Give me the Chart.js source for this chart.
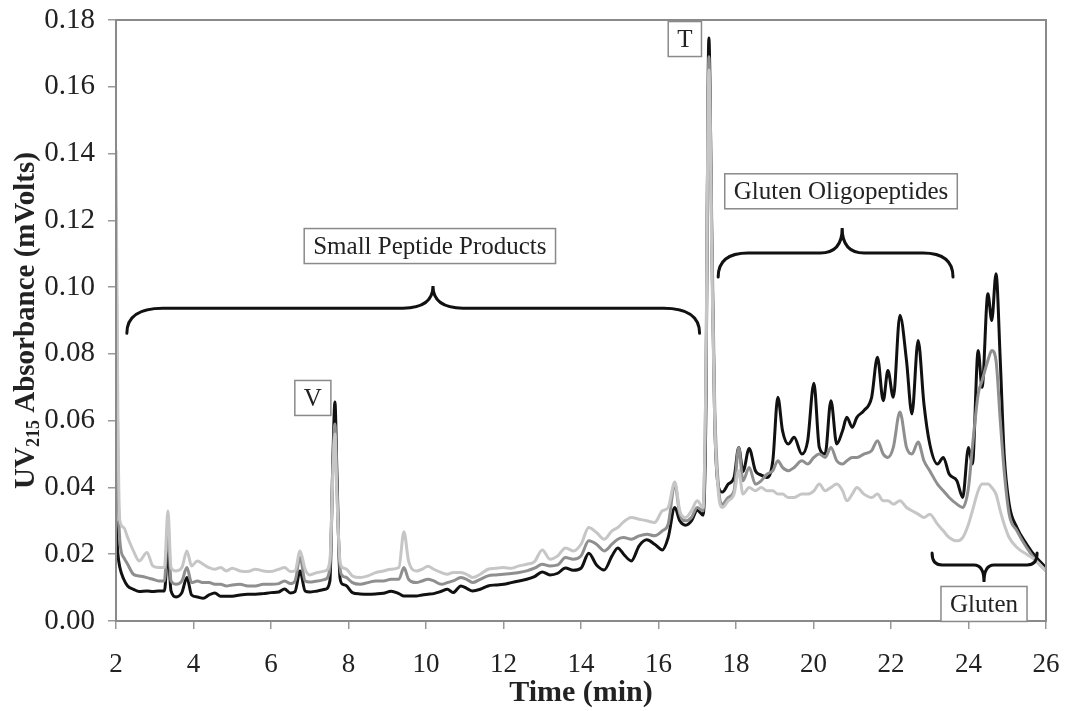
<!DOCTYPE html>
<html><head><meta charset="utf-8">
<script src="https://cdn.jsdelivr.net/npm/chart.js@4/dist/chart.umd.min.js"></script>
<style>html,body{margin:0;padding:0;background:#fff;}#wrap{width:1069px;height:711px;}</style>
</head><body><div id="wrap"><canvas id="c" width="1069" height="711"></canvas></div>
<script>
// Retention time (min)
const times = [2.0,2.05,2.1,2.2,2.3,2.45,2.6,2.8,2.95,3.1,3.25,3.34,3.42,3.55,3.7,3.83,3.95,4.1,4.25,4.4,4.55,4.7,4.85,5.0,5.2,5.4,5.6,5.8,6.0,6.2,6.35,6.5,6.62,6.75,6.88,7.0,7.2,7.4,7.52,7.6,7.65,7.7,7.78,7.85,7.95,8.1,8.3,8.5,8.7,8.9,9.1,9.3,9.43,9.55,9.75,9.9,10.05,10.2,10.4,10.55,10.7,10.9,11.05,11.2,11.4,11.6,11.8,12.0,12.2,12.4,12.6,12.8,13.0,13.2,13.4,13.6,13.8,14.0,14.2,14.4,14.6,14.8,14.95,15.1,15.3,15.5,15.7,15.9,16.1,16.25,16.42,16.55,16.7,16.85,17.0,17.15,17.22,17.3,17.38,17.45,17.55,17.65,17.8,17.95,18.07,18.18,18.34,18.5,18.65,18.8,18.95,19.08,19.2,19.35,19.5,19.7,19.85,20.01,20.15,20.3,20.45,20.6,20.75,20.86,21.0,21.12,21.3,21.5,21.65,21.8,21.92,22.06,22.23,22.4,22.54,22.7,22.85,23.0,23.2,23.35,23.5,23.7,23.85,24.0,24.1,24.25,24.35,24.5,24.6,24.71,24.82,24.92,25.05,25.25,25.5,25.75,26.0];
// Darkest trace
const blackSeries = [0.030,0.020,0.016,0.0125,0.0105,0.0095,0.0088,0.009,0.0088,0.009,0.009,0.021,0.009,0.0072,0.0085,0.013,0.0078,0.0072,0.0068,0.0078,0.0084,0.0074,0.0074,0.0074,0.0078,0.008,0.008,0.0082,0.0085,0.0087,0.0096,0.0084,0.0088,0.015,0.009,0.0087,0.009,0.0095,0.012,0.05,0.0656,0.045,0.013,0.011,0.0105,0.0085,0.0081,0.008,0.0081,0.0083,0.0089,0.0082,0.0075,0.0075,0.0075,0.0078,0.008,0.0082,0.0089,0.0095,0.0085,0.0105,0.0098,0.009,0.0095,0.0105,0.0108,0.011,0.0115,0.012,0.0125,0.0133,0.0147,0.0138,0.0143,0.0159,0.0152,0.0158,0.0203,0.0168,0.0153,0.0195,0.0219,0.020,0.018,0.0225,0.0243,0.023,0.0213,0.025,0.034,0.030,0.0287,0.030,0.0332,0.0317,0.06,0.1746,0.11,0.06,0.040,0.0386,0.041,0.043,0.052,0.0448,0.0517,0.045,0.0437,0.043,0.048,0.067,0.057,0.053,0.055,0.050,0.054,0.0712,0.052,0.050,0.066,0.053,0.057,0.061,0.058,0.061,0.063,0.067,0.079,0.066,0.075,0.067,0.0916,0.078,0.062,0.084,0.065,0.053,0.047,0.049,0.044,0.042,0.037,0.052,0.047,0.081,0.070,0.098,0.090,0.104,0.078,0.050,0.035,0.028,0.023,0.019,0.016];
// Medium grey trace
const midSeries = [0.124,0.045,0.024,0.019,0.017,0.014,0.0135,0.013,0.0125,0.012,0.012,0.028,0.012,0.011,0.012,0.016,0.0115,0.012,0.0115,0.0115,0.011,0.011,0.0105,0.0108,0.011,0.0105,0.0105,0.011,0.011,0.0112,0.012,0.0112,0.012,0.019,0.012,0.0117,0.012,0.0125,0.016,0.048,0.059,0.04,0.016,0.0135,0.013,0.0115,0.011,0.0115,0.012,0.012,0.0125,0.0125,0.016,0.0125,0.0115,0.012,0.0125,0.012,0.011,0.0115,0.012,0.013,0.0125,0.0115,0.0125,0.0135,0.0138,0.014,0.0142,0.0145,0.015,0.0158,0.017,0.0165,0.0168,0.019,0.0185,0.0195,0.024,0.023,0.021,0.023,0.0245,0.025,0.0245,0.0255,0.026,0.0255,0.027,0.029,0.041,0.032,0.030,0.031,0.034,0.033,0.07,0.169,0.115,0.065,0.040,0.035,0.037,0.039,0.052,0.042,0.046,0.041,0.042,0.044,0.045,0.048,0.046,0.045,0.046,0.048,0.047,0.049,0.050,0.049,0.052,0.048,0.047,0.048,0.049,0.049,0.050,0.051,0.054,0.050,0.049,0.052,0.0626,0.052,0.050,0.0536,0.048,0.045,0.041,0.039,0.037,0.035,0.034,0.040,0.052,0.068,0.072,0.078,0.081,0.078,0.060,0.045,0.032,0.027,0.022,0.018,0.015];
// Light grey trace
const lightSeries = [0.141,0.060,0.030,0.028,0.025,0.021,0.018,0.0205,0.0165,0.016,0.016,0.033,0.016,0.015,0.016,0.021,0.0165,0.018,0.017,0.016,0.0155,0.016,0.015,0.0158,0.015,0.0148,0.0155,0.015,0.0148,0.0155,0.016,0.0148,0.015,0.021,0.0155,0.0138,0.0145,0.015,0.018,0.045,0.056,0.038,0.018,0.016,0.0155,0.0135,0.013,0.0135,0.0145,0.015,0.0155,0.016,0.0267,0.018,0.015,0.0155,0.0164,0.0155,0.0145,0.014,0.0145,0.0145,0.014,0.013,0.014,0.0155,0.0158,0.016,0.0158,0.0165,0.017,0.0178,0.0213,0.0185,0.0195,0.0219,0.021,0.023,0.028,0.0265,0.0245,0.027,0.028,0.0297,0.031,0.0305,0.030,0.0295,0.033,0.034,0.0416,0.033,0.031,0.033,0.036,0.034,0.07,0.165,0.105,0.06,0.038,0.034,0.036,0.038,0.045,0.038,0.040,0.039,0.040,0.039,0.039,0.038,0.038,0.037,0.037,0.038,0.038,0.039,0.041,0.039,0.040,0.041,0.039,0.036,0.038,0.040,0.038,0.037,0.038,0.036,0.036,0.035,0.036,0.034,0.033,0.032,0.031,0.032,0.029,0.027,0.025,0.024,0.025,0.029,0.033,0.039,0.041,0.041,0.040,0.038,0.033,0.029,0.025,0.022,0.020,0.018,0.015];

const xTickValues = [2,4,6,8,10,12,14,16,18,20,22,24,26];
const yTickValues = [0,0.02,0.04,0.06,0.08,0.10,0.12,0.14,0.16,0.18];

const labelBoxes = [
  {text:'Small Peptide Products', x:10.1, y:0.1123},
  {text:'V', x:7.08, y:0.0668},
  {text:'T', x:16.68, y:0.1743},
  {text:'Gluten Oligopeptides', x:20.71, y:0.1287},
  {text:'Gluten', x:24.4, y:0.0051}
];
const braces = [
  {x1:2.28, x2:17.06, y:0.0937, yEnd:0.0862, xTip:10.18, yTip:0.1003, r:36, rTip:30},
  {x1:17.54, x2:23.6, y:0.1102, yEnd:0.1030, xTip:20.74, yTip:0.1177, r:30, rTip:22},
  {x1:23.06, x2:25.77, y:0.0168, yEnd:0.0204, xTip:24.4, yTip:0.0117, r:10, rTip:10}
];

const SERIF = '"Liberation Serif","Times New Roman",serif';
const pts = arr => times.map((t,i)=>({x:t,y:arr[i]}));

const annotate = {
  id:'annotate',
  afterDatasetsDraw(chart){
    const {ctx, chartArea:a, scales:{x,y}} = chart;
    ctx.save();
    ctx.strokeStyle='#8a8a8a'; ctx.lineWidth=2;
    ctx.strokeRect(a.left, a.top, a.right-a.left, a.bottom-a.top);
    ctx.strokeStyle='#111'; ctx.lineWidth=3; ctx.lineCap='round';
    braces.forEach(b=>{
      const X1=x.getPixelForValue(b.x1), X2=x.getPixelForValue(b.x2);
      const Y=y.getPixelForValue(b.y), Ye=y.getPixelForValue(b.yEnd);
      const Xt=x.getPixelForValue(b.xTip), Yt=y.getPixelForValue(b.yTip);
      ctx.beginPath();
      ctx.moveTo(X1,Ye);
      ctx.quadraticCurveTo(X1,Y,X1+b.r,Y);
      ctx.lineTo(Xt-b.rTip,Y);
      ctx.quadraticCurveTo(Xt,Y,Xt,Yt);
      ctx.quadraticCurveTo(Xt,Y,Xt+b.rTip,Y);
      ctx.lineTo(X2-b.r,Y);
      ctx.quadraticCurveTo(X2,Y,X2,Ye);
      ctx.stroke();
    });
    ctx.font='25px '+SERIF;
    ctx.textAlign='center'; ctx.textBaseline='middle';
    labelBoxes.forEach(l=>{
      const cx=x.getPixelForValue(l.x), cy=y.getPixelForValue(l.y);
      const w=ctx.measureText(l.text).width+18, h=35;
      ctx.fillStyle='#fff';
      ctx.fillRect(cx-w/2,cy-h/2,w,h);
      ctx.strokeStyle='#8a8a8a'; ctx.lineWidth=1.5;
      ctx.strokeRect(cx-w/2,cy-h/2,w,h);
      ctx.fillStyle='#222';
      ctx.fillText(l.text,cx,cy+1);
    });
    ctx.restore();
  },
  afterDraw(chart){
    const {ctx, chartArea:a} = chart;
    ctx.save();
    ctx.translate(27,(a.top+a.bottom)/2);
    ctx.rotate(-Math.PI/2);
    ctx.fillStyle='#222';
    ctx.textBaseline='middle';
    const big='bold 29px '+SERIF, small='bold 18px '+SERIF;
    const parts=[['UV',big,0],['215',small,7],[' Absorbance (mVolts)',big,0]];
    let total=0;
    parts.forEach(p=>{ctx.font=p[1]; total+=ctx.measureText(p[0]).width;});
    let cx=-total/2;
    ctx.textAlign='left';
    parts.forEach(p=>{ctx.font=p[1]; ctx.fillText(p[0],cx,p[2]); cx+=ctx.measureText(p[0]).width;});
    ctx.restore();
  }
};

new Chart(document.getElementById('c'),{
  type:'line',
  data:{datasets:[
    {label:'Sample A', data:pts(blackSeries), borderColor:'#111', borderWidth:3, pointRadius:0, cubicInterpolationMode:'monotone', order:3},
    {label:'Sample B', data:pts(midSeries), borderColor:'#8f8f8f', borderWidth:3, pointRadius:0, cubicInterpolationMode:'monotone', order:2},
    {label:'Sample C', data:pts(lightSeries), borderColor:'#c6c6c6', borderWidth:3, pointRadius:0, cubicInterpolationMode:'monotone', order:1}
  ]},
  options:{
    responsive:false, animation:false, devicePixelRatio:1,
    layout:{padding:{top:20,right:23,left:0,bottom:0}},
    plugins:{legend:{display:false}, tooltip:{enabled:false}},
    scales:{
      x:{type:'linear', min:2, max:26,
        afterBuildTicks(s){s.ticks=xTickValues.map(v=>({value:v}));},
        afterFit(s){s.height=90; s.paddingLeft=0; s.paddingRight=0;},
        ticks:{color:'#222', font:{family:SERIF,size:27}, padding:20, maxRotation:0, autoSkip:false},
        grid:{drawOnChartArea:false, drawTicks:true, tickLength:8, color:'#999', lineWidth:1.5},
        border:{display:false},
        title:{display:true, text:'Time (min)', color:'#222', font:{family:SERIF,size:30,weight:'bold'}, padding:{top:0,bottom:0}}
      },
      y:{min:0, max:0.18,
        afterBuildTicks(s){s.ticks=yTickValues.map(v=>({value:v}));},
        afterFit(s){s.width=116; s.paddingTop=0; s.paddingBottom=0;},
        ticks:{color:'#222', font:{family:SERIF,size:29}, padding:13, callback:v=>Number(v).toFixed(2)},
        grid:{drawOnChartArea:false, drawTicks:true, tickLength:8, color:'#999', lineWidth:1.5},
        border:{display:false}
      }
    }
  },
  plugins:[annotate]
});
</script>
</body></html>
